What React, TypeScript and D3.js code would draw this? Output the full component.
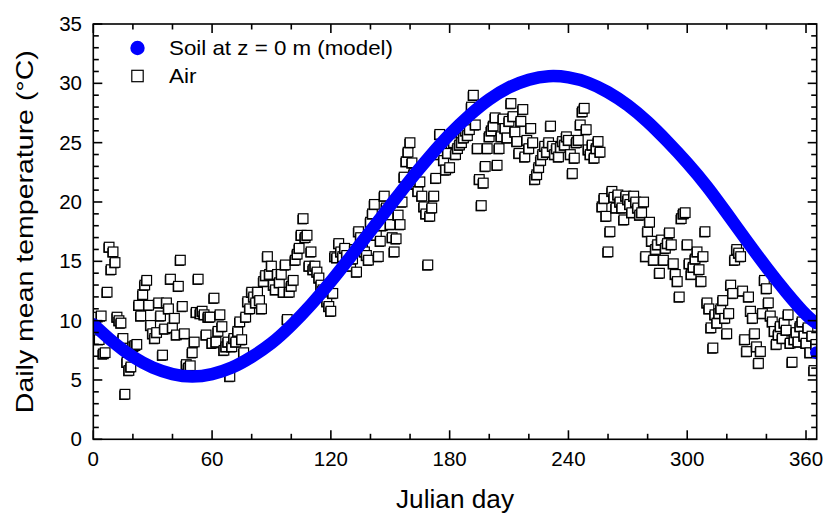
import React from "react";
import * as d3 from "d3";

const W = 823;
const H = 514;

// Air temperature, daily mean (°C), day 1..365
const airTemp: number[] = [
  9.7, 10.3, 8.4, 10.4, 7.2, 7.3, 12.4, 16.2, 14.3, 15.8,
  14.9, 10.3, 10.0, 9.8, 8.5, 3.8, 6.5, 5.8, 6.1, 7.8,
  7.9, 8.0, 11.3, 10.4, 12.2, 13.0, 13.4, 11.3, 9.6, 8.9,
  8.5, 9.0, 11.5, 10.4, 7.1, 9.3, 11.5, 11.0, 13.5, 9.4,
  10.2, 8.8, 12.9, 15.1, 11.2, 8.9, 6.3, 6.0, 6.2, 7.3,
  8.2, 10.7, 13.5, 10.6, 10.8, 10.5, 8.8, 10.3, 10.3, 8.1,
  11.9, 8.2, 9.1, 10.5, 9.5, 7.5, 7.8, 8.2, 5.3, 7.8,
  8.5, 8.2, 9.1, 9.9, 8.4, 7.3, 10.3, 11.6, 11.0, 12.4,
  12.0, 11.5, 12.4, 11.7, 11.0, 13.3, 13.8, 15.4, 13.9, 14.6,
  13.0, 12.6, 13.9, 13.2, 13.9, 12.4, 14.7, 10.1, 12.4, 12.9,
  13.4, 15.1, 15.6, 16.1, 17.2, 18.6, 17.0, 17.2, 14.6, 15.8,
  14.3, 14.6, 14.1, 13.6, 13.0, 12.6, 12.3, 11.6, 11.2, 10.8,
  12.3, 15.4, 15.3, 16.5, 15.8, 15.4, 16.1, 15.5, 14.8, 14.6,
  15.2, 16.0, 14.1, 17.5, 17.0, 16.2, 15.8, 15.5, 15.1, 18.3,
  19.0, 19.8, 17.2, 15.4, 16.7, 18.0, 20.5, 19.5, 18.9, 18.1,
  17.0, 15.8, 16.9, 18.9, 18.1, 20.0, 22.1, 23.4, 24.2, 25.0,
  23.3, 22.4, 21.5, 20.9, 21.7, 20.5, 19.6, 19.0, 14.7, 18.8,
  19.5, 20.5, 22.0, 24.0, 25.7, 24.8, 23.5, 22.7, 24.1, 22.9,
  25.5, 25.0, 24.0, 24.5, 24.8, 25.0, 25.4, 26.0, 25.6, 26.1,
  28.0, 29.0, 26.5, 24.5, 21.9, 19.7, 21.6, 23.0, 24.5, 25.5,
  26.0, 26.4, 27.1, 23.1, 24.5, 25.5, 27.0, 26.2, 25.4, 26.8,
  28.3, 27.2, 25.9, 25.1, 24.1, 26.8, 27.8, 23.8, 25.2, 24.5,
  26.2, 25.0, 21.9, 22.3, 22.9, 23.5, 24.0, 24.7, 24.2, 25.0,
  26.4, 24.7, 24.0, 24.5, 23.8, 24.6, 25.1, 24.8, 25.5, 25.2,
  24.0, 22.4, 23.7, 25.0, 25.2, 26.5, 27.6, 27.9, 26.1, 24.4,
  24.0, 24.8, 23.7, 24.5, 25.1, 24.2, 19.6, 20.3, 18.8, 15.8,
  17.5, 20.9, 20.4, 19.5, 20.6, 20.0, 19.5, 18.5, 20.5, 20.2,
  19.8, 19.1, 20.5, 20.0, 19.5, 18.9, 19.1, 20.0, 15.4, 17.5,
  18.3, 16.7, 15.1, 16.0, 16.4, 14.0, 16.8, 15.1, 16.1, 16.5,
  17.4, 16.4, 14.8, 13.9, 13.3, 12.0, 18.6, 19.0, 19.1, 16.4,
  14.8, 13.9, 14.5, 15.2, 15.8, 14.3, 13.3, 15.4, 17.5, 11.5,
  11.0, 9.4, 7.7, 10.5, 9.8, 10.6, 11.0, 11.7, 10.2, 8.9,
  10.6, 13.0, 12.3, 15.1, 16.0, 15.7, 15.4, 12.5, 8.4, 7.4,
  12.0, 10.8, 10.2, 8.9, 7.8, 6.4, 7.4, 10.6, 13.4, 12.7,
  11.5, 10.4, 9.9, 9.1, 8.0, 8.8, 9.5, 8.5, 9.8, 9.2,
  10.5, 8.1, 6.5, 8.4, 9.0, 8.2, 9.5, 9.9, 8.7, 8.1,
  9.4, 7.3, 8.7, 5.8, 8.0,
];

// Soil surface temperature (model), read at intervals
const soilDays: number[] = [0, 10, 20, 30, 40, 50, 60, 70, 80, 90, 100, 110, 120, 130, 140, 150, 160, 170, 180, 190, 200, 210, 220, 230, 240, 250, 260, 270, 280, 290, 300, 310, 320, 330, 340, 350, 360, 365];
const soilTemp: number[] = [9.7, 8.2, 6.95, 6.05, 5.5, 5.3, 5.5, 6.05, 6.95, 8.1, 9.6, 11.35, 13.3, 15.4, 17.55, 19.7, 21.85, 23.85, 25.7, 27.3, 28.65, 29.65, 30.3, 30.6, 30.5, 30.05, 29.25, 28.15, 26.75, 25.1, 23.3, 21.3, 19.05, 16.75, 14.5, 12.4, 10.5, 9.8];
const soilExtraDay: number[] = [365.3];
const soilExtraTemp: number[] = [7.3];

const xMajor: number[] = [0, 60, 120, 180, 240, 300, 360];
const yMajor: number[] = [0, 5, 10, 15, 20, 25, 30, 35];

const FONT = "'Liberation Sans', Arial, Helvetica, sans-serif";

export default function App() {
  const left = 93.3, right = 816.7, top = 24, bottom = 439.3;
  const x = d3.scaleLinear().domain([0, 365.4]).range([left, right]);
  const y = d3.scaleLinear().domain([0, 35]).range([bottom, top]);

  const soilPts: [number, number][] = soilDays.map((d, i) => [d, soilTemp[i]]);
  const line = d3
    .line<[number, number]>()
    .x((p) => x(p[0]))
    .y((p) => y(p[1]))
    .curve(d3.curveNatural);

  const xMinor = d3.range(0, 366, 20);
  const yMinor = d3.range(0, 36, 1);
  const sq = 9.6;

  const axisColor = "#000";
  const aw = 1.6;

  return (
    <svg
      width={W}
      height={H}
      style={{ position: "absolute", left: 0, top: 0, background: "#fff" }}
      fontFamily={FONT}
    >
      <defs>
        <clipPath id="plotClip">
          <rect x={left} y={top} width={right - left} height={bottom - top} />
        </clipPath>
      </defs>
      <rect x={0} y={0} width={W} height={H} fill="#fff" />

      <g clipPath="url(#plotClip)">
        {/* Air squares */}
        {airTemp.map((t, i) => {
          const cx = x(i + 1);
          const cy = y(t);
          return (
            <g key={"a" + i}>
              <rect x={cx - sq / 2 - 1} y={cy - sq / 2 + 1} width={sq} height={sq} fill="#000" />
              <rect
                x={cx - sq / 2}
                y={cy - sq / 2}
                width={sq}
                height={sq}
                fill="#fff"
                stroke="#000"
                strokeWidth={1.2}
              />
            </g>
          );
        })}
        {/* Soil model */}
        <path d={line(soilPts) || ""} fill="none" stroke="#0000ff" strokeWidth={12.5} strokeLinecap="round" strokeLinejoin="round" />
        {soilExtraDay.map((d, i) => (
          <circle key={"s" + i} cx={x(d)} cy={y(soilExtraTemp[i])} r={6.5} fill="#0000ff" />
        ))}
      </g>

      {/* Frame */}
      <rect x={left} y={top} width={right - left} height={bottom - top} fill="none" stroke={axisColor} strokeWidth={aw} />

      {/* X ticks bottom & top */}
      {xMinor.map((v) => {
        const major = v % 60 === 0;
        const len = major ? 9 : 5.5;
        const px = x(v);
        return (
          <g key={"xt" + v}>
            <line x1={px} x2={px} y1={bottom} y2={bottom - len} stroke={axisColor} strokeWidth={aw} />
            <line x1={px} x2={px} y1={top} y2={top + len} stroke={axisColor} strokeWidth={aw} />
          </g>
        );
      })}
      {/* Y ticks left & right */}
      {yMinor.map((v) => {
        const major = v % 5 === 0;
        const len = major ? 9 : 5.5;
        const py = y(v);
        return (
          <g key={"yt" + v}>
            <line x1={left} x2={left + len} y1={py} y2={py} stroke={axisColor} strokeWidth={aw} />
            <line x1={right} x2={right - len} y1={py} y2={py} stroke={axisColor} strokeWidth={aw} />
          </g>
        );
      })}

      {/* Tick labels */}
      {xMajor.map((v) => (
        <text key={"xl" + v} x={x(v)} y={466} textAnchor="middle" fontSize={20.5} fill="#000">
          {v}
        </text>
      ))}
      {yMajor.map((v) => (
        <text key={"yl" + v} x={82} y={y(v) + 7} textAnchor="end" fontSize={20.5} fill="#000">
          {v}
        </text>
      ))}

      {/* Axis titles */}
      <text
        x={(left + right) / 2}
        y={508}
        textAnchor="middle"
        fontSize={25}
        fill="#000"
        textLength={118}
        lengthAdjust="spacingAndGlyphs"
      >
        Julian day
      </text>
      <text
        transform={`translate(33, ${(top + bottom) / 2}) rotate(-90)`}
        textAnchor="middle"
        fontSize={24}
        fill="#000"
        textLength={363}
        lengthAdjust="spacingAndGlyphs"
      >
        Daily mean temperature (°C)
      </text>

      {/* Legend */}
      <circle cx={137.5} cy={48} r={7.2} fill="#0000ff" />
      <text x={169} y={55} fontSize={21} fill="#000" textLength={224} lengthAdjust="spacingAndGlyphs">
        Soil at z = 0 m (model)
      </text>
      <rect x={131.8} y={70.3} width={11.4} height={11.4} fill="#fff" stroke="#000" strokeWidth={1.2} />
      <text x={169} y={83} fontSize={21} fill="#000" textLength={27.5} lengthAdjust="spacingAndGlyphs">
        Air
      </text>
    </svg>
  );
}
